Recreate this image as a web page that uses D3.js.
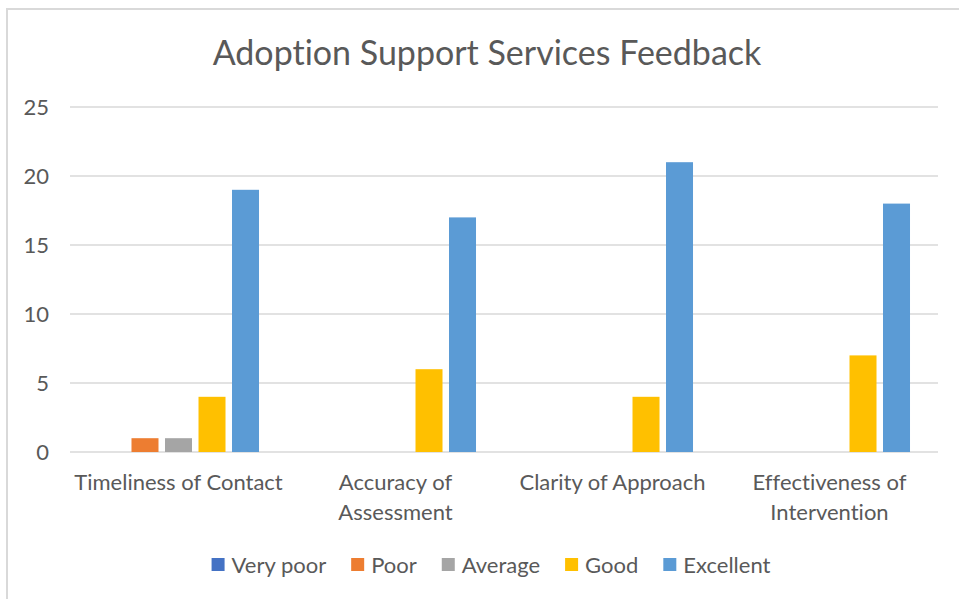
<!DOCTYPE html>
<html>
<head>
<meta charset="utf-8">
<script src="https://cdn.jsdelivr.net/npm/d3@7"></script>
<style>
  body { margin: 0; background: #fff; }
  text { font-family: Lato, "Open Sans", sans-serif; fill: #595959;
         font-variant-ligatures: none; font-feature-settings: "liga" 0, "clig" 0, "dlig" 0; }
</style>
</head>
<body>
<div id="chart"></div>
<script>
// chart data
var categories = ["Timeliness of Contact", "Accuracy of Assessment", "Clarity of Approach", "Effectiveness of Intervention"];
var seriesNames = ["Very poor", "Poor", "Average", "Good", "Excellent"];
var veryPoor = [0, 0, 0, 0];
var poor = [1, 0, 0, 0];
var average = [1, 0, 0, 0];
var good = [4, 6, 4, 7];
var excellent = [19, 17, 21, 18];
var yTicks = [0, 5, 10, 15, 20, 25];
var colors = ["#4472C4", "#ED7D31", "#A5A5A5", "#FFC000", "#5B9BD5"];

var seriesValues = [veryPoor, poor, average, good, excellent];

var svgWidth = 959, svgHeight = 599;
var margin = { top: 107, right: 21, bottom: 147, left: 70 };
var width = svgWidth - margin.left - margin.right;
var height = svgHeight - margin.top - margin.bottom;

var svg = d3.select("#chart").append("svg")
    .attr("width", svgWidth)
    .attr("height", svgHeight);

// outer chart border (only top/left visible in the picture)
svg.append("rect")
    .attr("x", 7).attr("y", 9)
    .attr("width", svgWidth + 10).attr("height", svgHeight + 10)
    .attr("fill", "none")
    .attr("stroke", "#d9d9d9")
    .attr("stroke-width", 2);

svg.append("text")
    .attr("x", 487)
    .attr("y", 65)
    .attr("text-anchor", "middle")
    .style("font-size", "34px")
    .text("Adoption Support Services Feedback");

var chartGroup = svg.append("g")
    .attr("transform", `translate(${margin.left}, ${margin.top})`);

var x0 = d3.scaleBand().domain(categories).range([0, width]).padding(0);
var inner = x0.bandwidth() * 0.114;
var x1 = d3.scaleBand().domain(seriesNames).range([inner, x0.bandwidth() - inner]).padding(0);
var barGap = 6.5;

var y = d3.scaleLinear().domain([0, 25]).range([height, 0]);

// gridlines
chartGroup.append("g")
    .selectAll("line")
    .data(yTicks)
    .enter()
    .append("line")
    .attr("x1", 0).attr("x2", width)
    .attr("y1", d => y(d)).attr("y2", d => y(d))
    .attr("stroke", "#d9d9d9")
    .attr("stroke-width", 1.5);

// y axis labels
var leftAxis = d3.axisLeft(y).tickValues(yTicks).tickSize(0).tickPadding(21);
chartGroup.append("g")
    .call(leftAxis)
    .call(g => g.select(".domain").remove())
    .selectAll("text")
    .style("font-size", "22px")
    .style("font-family", "Lato, sans-serif")
    .attr("fill", "#595959");

// bars
var groups = chartGroup.append("g")
    .selectAll("g")
    .data(categories)
    .enter()
    .append("g")
    .attr("transform", d => `translate(${x0(d)}, 0)`);

groups.selectAll("rect")
    .data((d, i) => seriesNames.map((s, j) => ({ series: s, value: seriesValues[j][i], color: colors[j] })))
    .enter()
    .append("rect")
    .filter(d => d.value > 0)
    .attr("x", d => x1(d.series) + barGap / 2)
    .attr("width", x1.bandwidth() - barGap)
    .attr("y", d => y(d.value))
    .attr("height", d => y(0) - y(d.value))
    .attr("fill", d => d.color);

// category labels, wrapped to the band width
var bottomAxis = d3.axisBottom(x0).tickSize(0).tickPadding(0);
var xAxis = chartGroup.append("g")
    .attr("transform", `translate(0, ${height})`)
    .call(bottomAxis);
xAxis.select(".domain").remove();
xAxis.selectAll("text")
    .style("font-size", "22px")
    .style("font-family", "Lato, sans-serif")
    .attr("fill", "#595959")
    .attr("dy", null)
    .attr("y", 0)
    .each(function (d) {
        var t = d3.select(this);
        var words = d.split(" ");
        var lines = [], line = [];
        t.text(null);
        var probe = t.append("tspan");
        words.forEach(w => {
            line.push(w);
            probe.text(line.join(" "));
            if (probe.node().getComputedTextLength() > x0.bandwidth() - 4 && line.length > 1) {
                line.pop();
                lines.push(line.join(" "));
                line = [w];
            }
        });
        lines.push(line.join(" "));
        probe.remove();
        lines.forEach((l, k) => {
            t.append("tspan").attr("x", 0).attr("y", 38 + k * 30).text(l);
        });
    });

// legend
var legend = svg.append("g").attr("transform", "translate(0, 565)");
var items = legend.selectAll("g")
    .data(seriesNames)
    .enter()
    .append("g");
items.append("rect")
    .attr("width", 13).attr("height", 13)
    .attr("y", -7)
    .attr("fill", (d, i) => colors[i]);
items.append("text")
    .attr("x", 20)
    .attr("y", 8)
    .style("font-size", "22px")
    .text(d => d);

var pos = 0, offsets = [];
items.each(function () {
    offsets.push(pos);
    pos += 20 + d3.select(this).select("text").node().getComputedTextLength() + 25;
});
var total = pos - 25;
var startX = 491 - total / 2;
items.attr("transform", (d, i) => `translate(${startX + offsets[i]}, 0)`);
</script>
</body>
</html>
